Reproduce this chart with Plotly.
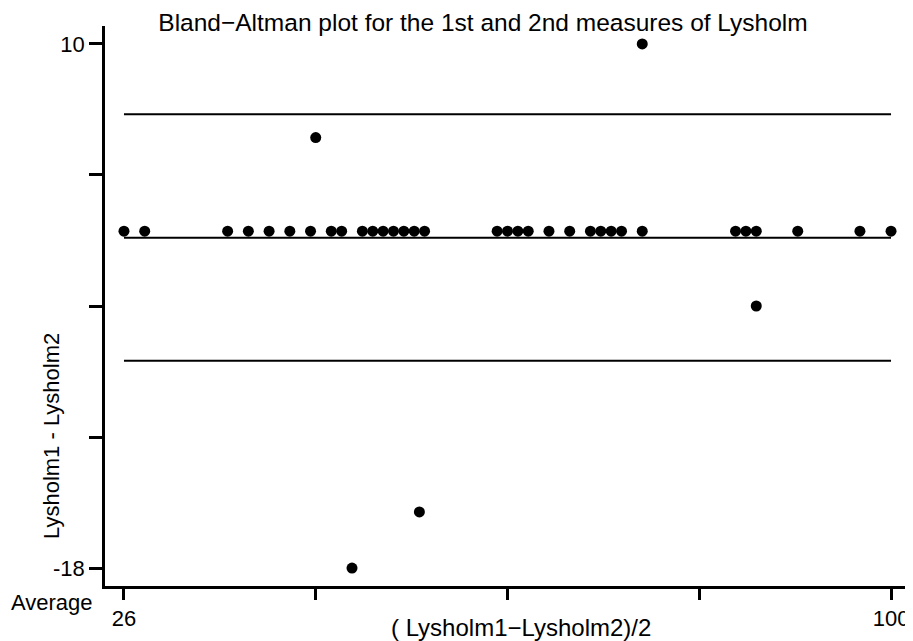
import plotly.graph_objects as go

# Data: points (average, difference)
avg_vals = [26, 28, 36, 38, 40, 42, 44, 46, 47, 49, 50, 51, 52, 53, 54, 55,
            62, 63, 64, 65, 67, 69, 71, 72, 73, 74, 76, 85, 86, 87, 91, 97, 100,
            44.5, 76, 87, 54.5, 48]
diff_vals = [0] * 33 + [5, 10, -4, -15, -18]

# Reference lines: upper limit, mean, lower limit
line_levels = [6.24, -0.36, -6.92]
line_span = [26, 100]

x_tickvals = [26, 44.5, 63, 81.5, 100]
x_ticktext = ["26", "", "", "", "100"]
y_tickvals = [10, 3, -4, -11, -18]
y_ticktext = ["10", "", "", "", "-18"]

W, H = 913, 641
OFF = 8  # page body margin offset
# plot area in window pixels: x 105..910, y 26..586
pl, pr, pt, pb = 105 - OFF, 910 - OFF, 26 - OFF, 586 - OFF
ml, mr, mt, mb = pl, W - pr, pt, H - pb
FONT = "Liberation Sans, Arial, sans-serif"

fig = go.Figure()
for lv in line_levels:
    fig.add_trace(go.Scatter(x=line_span, y=[lv, lv], mode="lines",
                             line=dict(color="black", width=2),
                             hoverinfo="skip", showlegend=False))
fig.add_trace(go.Scatter(x=avg_vals, y=diff_vals, mode="markers",
                         marker=dict(color="black", size=11),
                         showlegend=False))

def px_x(p):
    return (p - OFF - pl) / (pr - pl)

def px_y(p):
    return 1 - (p - OFF - pt) / (pb - pt)

fig.update_layout(
    width=W, height=H,
    margin=dict(l=ml, r=mr, t=mt, b=mb),
    paper_bgcolor="white", plot_bgcolor="white",
    font=dict(family=FONT, color="black", size=22),
    title=dict(text="Bland\u2212Altman plot for the 1st and 2nd measures of Lysholm",
               x=(483 - OFF) / W, xref="container", xanchor="center",
               y=1 - (22 - OFF) / H, yref="container", yanchor="middle",
               font=dict(size=24.5, family=FONT, color="black")),
    xaxis=dict(range=[24.17, 101.83], tickvals=x_tickvals, ticktext=x_ticktext,
               showgrid=False, zeroline=False, showline=True, linecolor="black",
               linewidth=2.5, ticks="outside", ticklen=11, tickwidth=2.5,
               tickcolor="black", tickfont=dict(size=22)),
    yaxis=dict(range=[-18.96, 10.96], tickvals=y_tickvals, ticktext=y_ticktext,
               showgrid=False, zeroline=False, showline=True, linecolor="black",
               linewidth=2.5, ticks="outside", ticklen=13, tickwidth=2.5,
               tickcolor="black", tickfont=dict(size=22)),
    annotations=[
        dict(text="Lysholm1 - Lysholm2", xref="paper", yref="paper",
             x=px_x(51), y=px_y(436), textangle=-90, showarrow=False,
             xanchor="center", yanchor="middle", font=dict(size=22)),
        dict(text="( Lysholm1\u2212Lysholm2)/2", xref="paper", yref="paper",
             x=px_x(521), y=px_y(627), showarrow=False,
             xanchor="center", yanchor="middle", font=dict(size=24)),
        dict(text="Average", xref="paper", yref="paper",
             x=px_x(9), y=px_y(602), showarrow=False,
             xanchor="left", yanchor="middle", font=dict(size=22)),
    ],
)

fig.write_html("out.html")
